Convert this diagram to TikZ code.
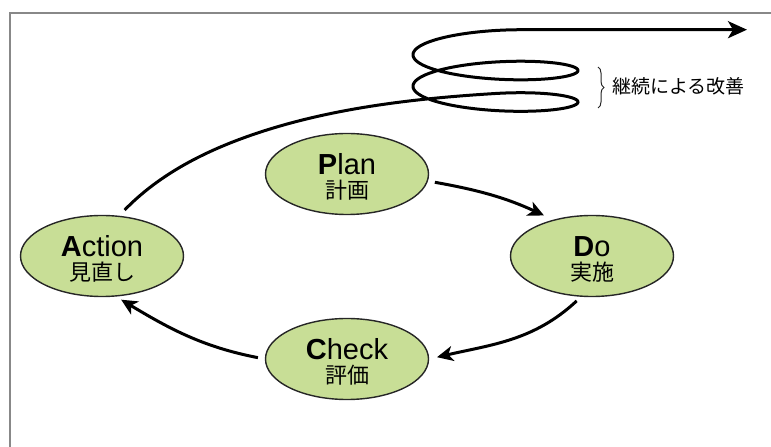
\documentclass[tikz,border=0pt]{standalone}
\usepackage{fontspec}
\setmainfont{Liberation Sans}
\newfontfamily\jp{Noto Sans CJK JP}
\usetikzlibrary{arrows.meta,decorations.pathreplacing,shapes.geometric}
\definecolor{pdcafill}{RGB}{200,222,150}
\definecolor{framegray}{RGB}{136,136,136}
\begin{document}
\begin{tikzpicture}[x=1pt,y=1pt,
  phase/.style={ellipse, draw=black!85, line width=1.4pt, fill=pdcafill,
    minimum width=163pt, minimum height=81pt, inner sep=0pt},
  lat/.style={font=\fontsize{29}{30}\selectfont, anchor=base, inner sep=0pt},
  jpt/.style={font=\jp\fontsize{22}{23}\selectfont, anchor=base, inner sep=0pt},
  cyc/.style={line width=3pt, -{Stealth[length=16pt,width=15pt,inset=4.5pt]}},
  spiral/.style={line width=3pt, -{Stealth[length=19pt,width=17pt,inset=5pt]}},
]
\useasboundingbox (0,0) rectangle (771,447);
\draw[framegray, line width=2pt] (10,0) -- (10,434) -- (771,434);

\node[phase] (P) at (347,273) {};
\node[phase] (D) at (592,191) {};
\node[phase] (A) at (102,191) {};
\node[phase] (C) at (347,88) {};

\node[lat] (Pl) at ([yshift=-1pt]P.center) {\textbf{P}lan};
\node[jpt] (Pj) at ([yshift=-24.5pt]P.center) {計画};
\node[lat] (Dl) at ([yshift=-1pt]D.center) {\textbf{D}o};
\node[jpt] (Dj) at ([yshift=-24.5pt]D.center) {実施};
\node[lat] (Cl) at ([yshift=-1pt]C.center) {\textbf{C}heck};
\node[jpt] (Cj) at ([yshift=-24.5pt]C.center) {評価};
\node[lat] (Al) at ([yshift=-1pt]A.center) {\textbf{A}ction};
\node[jpt] (Aj) at ([yshift=-24.5pt]A.center) {見直し};

\draw[cyc, shorten <=7pt, shorten >=10pt] (P.-5) to[out=-10,in=155] (D.137);
\draw[cyc, shorten <=6pt, shorten >=8pt] (D.-105) to[out=-137,in=13] (C.0);
\draw[cyc, shorten <=7pt, shorten >=6pt] (C.180) to[out=169,in=-31] (A.-71);

\coordinate (goal) at (747,417.3);
\draw[spiral, shorten <=8pt] (A.67)
  .. controls (157.7,271.1) and (200.8,293.8) .. (246,310)
  .. controls (325,338.3) and (411.7,348.4) .. (495.5,353.5)
  -- plot[domain=1.5708:14.4472, samples=400]
     ({495.5-82.5*cos(\x r)}, {337.1+5.013*(\x-1.5708)+16.4*sin(\x r)})
  -- (goal);

\draw[black!85, line width=1pt, decorate, decoration={brace, amplitude=6pt}]
  (598,380) -- (598,339);
\node[font=\jp\fontsize{19}{20}\selectfont, anchor=west, inner sep=0pt, text=black]
  (kz) at (612,361) {継続による改善};
\end{tikzpicture}
\end{document}
